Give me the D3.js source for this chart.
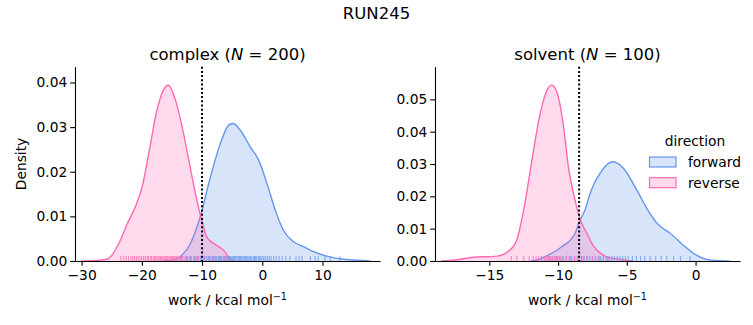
<!DOCTYPE html>
<html><head><meta charset="utf-8">
<script src="https://cdn.jsdelivr.net/npm/d3@7"></script>
<style>
body{margin:0;background:#fff;}
svg{font-family:"DejaVu Sans",sans-serif;}
</style></head>
<body><svg id="chart" width="753" height="325"></svg>
<script>
// ---- data ----
const suptitle = "RUN245";
const directions = ["forward", "reverse"];
const colors = {forward: "#6495ED", reverse: "#FF69B4"};

// complex panel density curves (work, density)
const complexForwardX = [-16.5,-15,-13.6,-11.9,-10.3,-8.6,-6.97,-5.6,-4.86,-3.65,-2.0,-0.6,0.77,2.16,3.5,5.2,6.85,8.5,10.7,13.5,16.8,18.0];
const complexForwardY = [0,0.0002,0.001,0.004,0.0099,0.0189,0.0263,0.0304,0.0308,0.0293,0.0256,0.0226,0.0174,0.0114,0.0069,0.0043,0.0032,0.0021,0.0011,0.0004,0.0001,0];
const complexReverseX = [-30,-27,-25.6,-23.8,-22.4,-21.1,-19.95,-18.85,-17.5,-16.1,-15.6,-14.4,-13.3,-12.2,-11.1,-10.07,-9.24,-8.14,-6.48,-5.65,-4.8];
const complexReverseY = [0,0.0002,0.0005,0.004,0.0084,0.0121,0.0166,0.0241,0.0338,0.039,0.0394,0.036,0.030,0.0226,0.0151,0.0092,0.0054,0.004,0.0025,0.001,0];

// solvent panel density curves
const solventForwardX = [-12.0,-11.67,-10.7,-9.73,-8.76,-8.45,-8.04,-7.67,-7.31,-6.95,-6.34,-5.98,-5.25,-4.28,-3.55,-2.7,-1.85,-0.89,-0.16,0.81,1.78,2.5];
const solventForwardY = [0,0.0002,0.0019,0.0044,0.0086,0.0122,0.0158,0.0209,0.0245,0.0271,0.0302,0.0307,0.0287,0.0220,0.0163,0.0112,0.0086,0.0049,0.0024,0.0005,0.0001,0];
const solventReverseX = [-18.5,-17.5,-16.3,-14.46,-13.5,-13.0,-12.5,-11.9,-11.4,-10.8,-10.45,-10.1,-9.6,-9.25,-8.77,-8.45,-8.28,-7.9,-7.55,-7.19,-6.45,-5.5,-4.5];
const solventReverseY = [0,0.0003,0.0011,0.0015,0.0034,0.0065,0.0158,0.0312,0.0436,0.0529,0.0544,0.0524,0.0415,0.0292,0.0189,0.0137,0.0117,0.0086,0.0055,0.0034,0.0013,0.0005,0];

// rug samples (approximate)
const complexForwardRug = [-13.4,-12.6,-11.9,-11.2,-10.8,-10.3,-9.9,-9.6,-9.2,-8.9,-8.6,-8.3,-8.1,-7.8,-7.6,-7.3,-7.1,-6.9,-6.7,-6.4,-6.2,-6.0,-5.8,-5.6,-5.4,-5.2,-5.0,-4.8,-4.6,-4.4,-4.2,-4.0,-3.8,-3.6,-3.4,-3.2,-3.0,-2.8,-2.6,-2.4,-2.2,-2.0,-1.8,-1.5,-1.3,-1.1,-0.9,-0.6,-0.4,-0.2,0.1,0.3,0.6,0.9,1.2,1.5,1.9,2.3,2.8,3.3,3.9,4.6,5.6,6.1,6.6,8.0,8.8,9.3,10.4,11.3,12.9];
const complexReverseRug = [-23.5,-23.0,-22.6,-22.2,-21.8,-21.5,-21.2,-20.9,-20.6,-20.3,-20.0,-19.7,-19.4,-19.1,-18.9,-18.6,-18.4,-18.1,-17.9,-17.7,-17.5,-17.3,-17.1,-16.9,-16.7,-16.5,-16.3,-16.1,-15.9,-15.7,-15.5,-15.3,-15.1,-14.9,-14.7,-14.5,-14.3,-14.1,-13.8,-13.6,-13.3,-13.0,-12.7,-12.4,-12.1,-11.8,-11.4,-11.0,-10.6,-10.1,-9.5,-8.8,-8.0,-7.1,-6.2];
const solventForwardRug = [-11.2,-10.6,-10.1,-9.7,-9.4,-9.1,-8.8,-8.6,-8.3,-8.1,-7.9,-7.7,-7.5,-7.3,-7.1,-6.9,-6.7,-6.5,-6.3,-6.1,-5.9,-5.7,-5.5,-5.3,-5.1,-4.9,-4.6,-4.3,-4.0,-3.7,-3.3,-2.9,-2.5,-2.1,-1.6,-1.1,-0.4];
const solventReverseRug = [-13.4,-13.0,-12.5,-12.1,-11.8,-11.6,-11.4,-11.2,-11.0,-10.9,-10.8,-10.7,-10.6,-10.5,-10.4,-10.3,-10.2,-10.1,-10.0,-9.9,-9.8,-9.6,-9.4,-9.2,-9.0,-8.8,-8.5,-8.2,-7.9,-7.5,-7.0,-6.4];

const complexXTicks = [-30,-20,-10,0,10];
const complexYTicks = [0,0.01,0.02,0.03,0.04];
const solventXTicks = [-15,-10,-5,0];
const solventYTicks = [0,0.01,0.02,0.03,0.04,0.05];
const complexThreshold = -10;
const solventThreshold = -8.47;

// ---- drawing ----
const svg = d3.select("#chart");
const zip = (xs, ys) => xs.map((v, i) => [v, ys[i]]);
const fmtX = v => (v < 0 ? "\u2212" + Math.abs(v) : String(v));

svg.append("text").attr("x", 376.5).attr("y", 19).attr("text-anchor", "middle")
  .attr("font-size", 16.5).text(suptitle);

function panel(cfg) {
  const x = d3.scaleLinear().domain(cfg.xDomain).range([cfg.left, cfg.right]);
  const y = d3.scaleLinear().domain(cfg.yDomain).range([261, 66.7]);
  const g = svg.append("g");
  const area = d3.area().x(d => x(d[0])).y0(y(0)).y1(d => y(d[1])).curve(d3.curveMonotoneX);
  const line = d3.line().x(d => x(d[0])).y(d => y(d[1])).curve(d3.curveMonotoneX);
  const clipId = "clip" + cfg.left;
  svg.append("clipPath").attr("id", clipId).append("rect")
    .attr("x", cfg.left).attr("y", 60).attr("width", cfg.right - cfg.left).attr("height", 201);
  const plot = g.append("g").attr("clip-path", `url(#${clipId})`);
  cfg.curves.forEach(c => {
    const d = zip(c.xs, c.ys);
    plot.append("path").datum(d).attr("d", area).attr("fill", colors[c.dir]).attr("fill-opacity", 0.25);
    plot.append("path").datum(d).attr("d", line).attr("fill", "none").attr("stroke", colors[c.dir]).attr("stroke-width", 1.4);
  });
  cfg.rugs.forEach(r => {
    plot.selectAll(null).data(r.vals).enter().append("line")
      .attr("x1", d => x(d)).attr("x2", d => x(d))
      .attr("y1", y(0)).attr("y2", y(0) - 5)
      .attr("stroke", colors[r.dir]).attr("stroke-opacity", 0.75).attr("stroke-width", 1.1);
  });
  plot.append("line").attr("x1", x(cfg.threshold)).attr("x2", x(cfg.threshold))
    .attr("y1", 66.7).attr("y2", 261).attr("stroke", "#000").attr("stroke-width", 2)
    .attr("stroke-dasharray", "2,2.2");

  const xa = g.append("g").attr("transform", "translate(0,261)")
    .call(d3.axisBottom(x).tickValues(cfg.xTicks).tickFormat(fmtX).tickSize(4.8).tickPadding(4.5).tickSizeOuter(0));
  const ya = g.append("g").attr("transform", `translate(${cfg.left},0)`)
    .call(d3.axisLeft(y).tickValues(cfg.yTicks).tickFormat(d3.format(".2f")).tickSize(4.8).tickPadding(3).tickSizeOuter(0));
  [xa, ya].forEach(a => {
    a.selectAll("text").attr("font-size", 13.8).attr("fill", "#000").attr("font-family", "DejaVu Sans");
    a.selectAll("line").attr("stroke", "#000").attr("stroke-width", 1.1);
    a.select(".domain").attr("stroke", "#000").attr("stroke-width", 1.1);
  });

  const cx = (cfg.left + cfg.right) / 2;
  const t = g.append("text").attr("x", cx).attr("y", 60).attr("text-anchor", "middle").attr("font-size", 16.5);
  t.append("tspan").text(cfg.name + " (");
  t.append("tspan").attr("font-style", "italic").text("N");
  t.append("tspan").text(" = " + cfg.n + ")");

  const xl = g.append("text").attr("x", cx).attr("y", 305).attr("text-anchor", "middle").attr("font-size", 13.8);
  xl.append("tspan").text("work / kcal mol");
  xl.append("tspan").attr("font-size", 9.7).attr("dy", -5.5).text("\u22121");
}

panel({
  name: "complex", n: 200, left: 75, right: 380,
  xDomain: [-31.1, 19.55], yDomain: [0, 0.04354],
  xTicks: complexXTicks, yTicks: complexYTicks, threshold: complexThreshold,
  curves: [{dir: "forward", xs: complexForwardX, ys: complexForwardY},
           {dir: "reverse", xs: complexReverseX, ys: complexReverseY}],
  rugs: [{dir: "forward", vals: complexForwardRug}, {dir: "reverse", vals: complexReverseRug}]
});
panel({
  name: "solvent", n: 100, left: 435, right: 740,
  xDomain: [-18.95, 3.23], yDomain: [0, 0.0601],
  xTicks: solventXTicks, yTicks: solventYTicks, threshold: solventThreshold,
  curves: [{dir: "forward", xs: solventForwardX, ys: solventForwardY},
           {dir: "reverse", xs: solventReverseX, ys: solventReverseY}],
  rugs: [{dir: "forward", vals: solventForwardRug}, {dir: "reverse", vals: solventReverseRug}]
});

svg.append("text").attr("x", 21).attr("y", 164).attr("transform", "rotate(-90,21,164)")
  .attr("text-anchor", "middle").attr("dominant-baseline", "central").attr("font-size", 13.8).text("Density");

// legend
const lg = svg.append("g");
lg.append("text").attr("x", 695).attr("y", 146).attr("text-anchor", "middle").attr("font-size", 13.8).text("direction");
directions.forEach((d, i) => {
  const yy = 157 + i * 20.7;
  lg.append("rect").attr("x", 649.5).attr("y", yy).attr("width", 26.5).attr("height", 10)
    .attr("fill", colors[d]).attr("fill-opacity", 0.25).attr("stroke", colors[d]).attr("stroke-width", 1.2);
  lg.append("text").attr("x", 688).attr("y", yy + 10).attr("font-size", 13.8).text(d);
});
</script></body></html>
